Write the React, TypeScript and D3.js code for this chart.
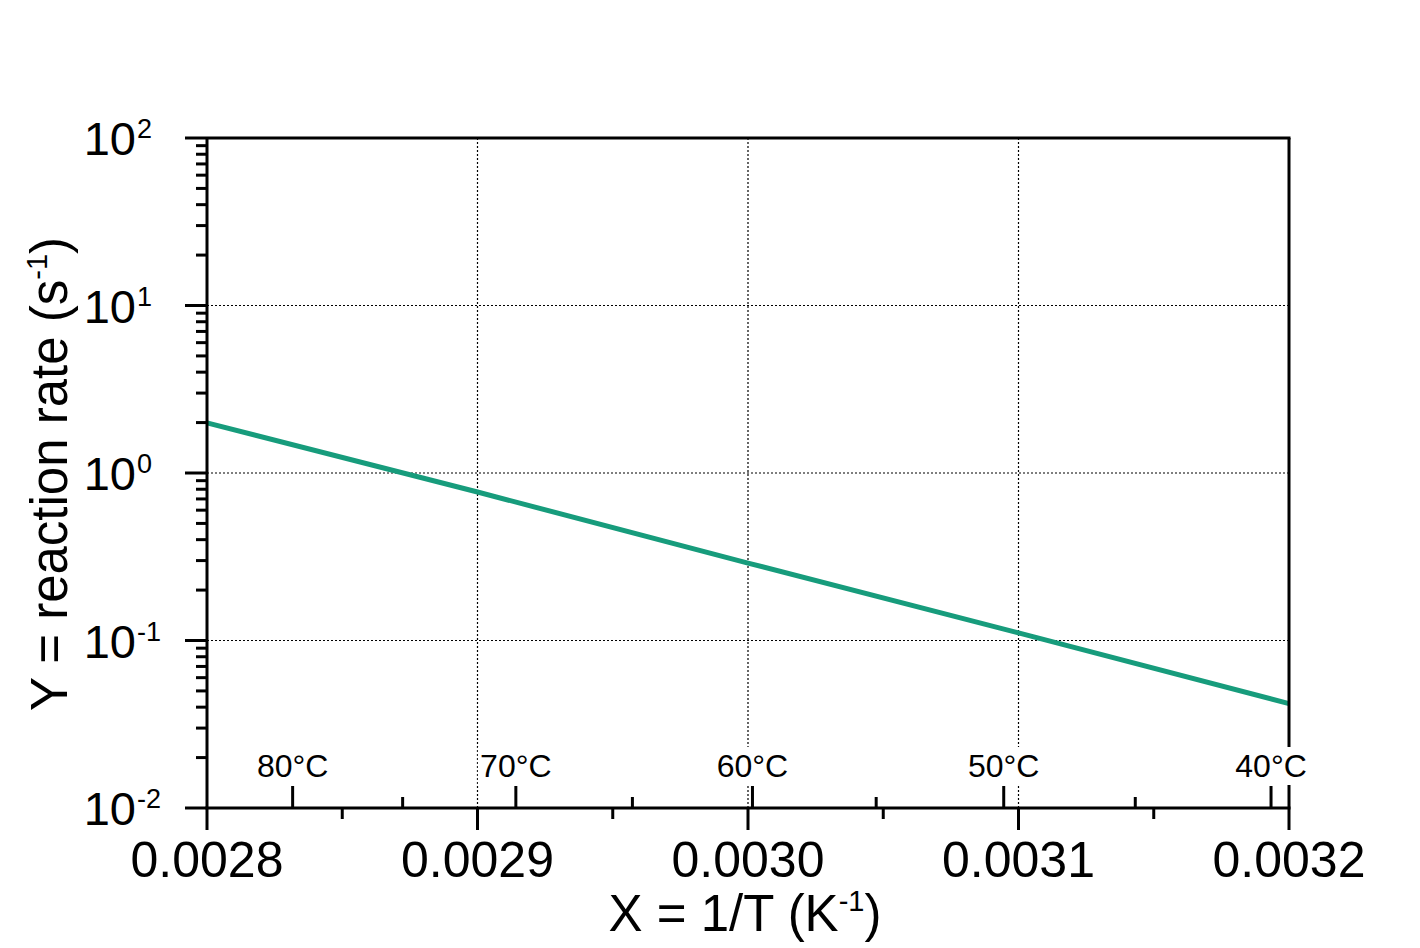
import React from 'react';
import * as d3 from 'd3';

// Arrhenius plot: reaction rate vs inverse temperature
const invT = [0.0028, 0.0029, 0.003, 0.0031, 0.0032];
const rate = [1.99, 0.77, 0.29, 0.111, 0.042];

const xTicks = [0.0028, 0.0029, 0.003, 0.0031, 0.0032];
const xMinorTicks = [0.00285, 0.00295, 0.00305, 0.00315];
const tempMajor = [80, 70, 60, 50, 40];
const tempMinor = [75, 65, 55, 45];
const yExponents = [-2, -1, 0, 1, 2];

const W = 1420;
const H = 948;
const margin = { top: 138, right: 131, bottom: 140, left: 207 };
const FONT = "'Liberation Sans', Arial, Helvetica, sans-serif";
const GREEN = '#179c7c';

export default function App() {
  const x = d3
    .scaleLinear()
    .domain([0.0028, 0.0032])
    .range([margin.left, W - margin.right]);
  const y = d3
    .scaleLog()
    .domain([0.01, 100])
    .range([H - margin.bottom, margin.top]);

  const x0 = x.range()[0];
  const x1 = x.range()[1];
  const yB = y.range()[0];
  const yT = y.range()[1];

  const line = d3
    .line<number>()
    .x((d, i) => x(invT[i]))
    .y((d) => y(d));

  // minor log ticks 2..9 in each decade
  const yMinor: number[] = [];
  yExponents.slice(0, -1).forEach((e) => {
    for (let k = 2; k <= 9; k++) yMinor.push(k * Math.pow(10, e));
  });

  const kelvin = (c: number) => 1 / (c + 273.15);

  return (
    <svg
      width={W}
      height={H}
      style={{ position: 'fixed', top: 0, left: 0, background: '#fff' }}
      fontFamily={FONT}
    >
      {/* grid */}
      <g stroke="#000" strokeWidth={1.2} strokeDasharray="2,2">
        {xTicks.slice(1, -1).map((t) => (
          <line key={'gx' + t} x1={x(t)} x2={x(t)} y1={yT} y2={yB} />
        ))}
        {yExponents.slice(1, -1).map((e) => (
          <line key={'gy' + e} x1={x0} x2={x1} y1={y(Math.pow(10, e))} y2={y(Math.pow(10, e))} />
        ))}
      </g>

      {/* data line */}
      <path d={line(rate) || ''} fill="none" stroke={GREEN} strokeWidth={5} />

      {/* frame */}
      <g stroke="#000" strokeWidth={3} fill="none">
        <line x1={x0} x2={x1 + 1.5} y1={yT} y2={yT} />
        <line x1={x1} x2={x1} y1={yT} y2={yB} />
        <line x1={x0} x2={x0} y1={yT} y2={yB} />
        <line x1={x0 - 1.5} x2={x1 + 1.5} y1={yB} y2={yB} />
      </g>

      {/* y ticks */}
      <g stroke="#000" strokeWidth={3}>
        {yExponents.map((e) => (
          <line key={'yt' + e} x1={x0 - 22} x2={x0} y1={y(Math.pow(10, e))} y2={y(Math.pow(10, e))} />
        ))}
        {yMinor.map((v) => (
          <line key={'ym' + v} x1={x0 - 11} x2={x0} y1={y(v)} y2={y(v)} />
        ))}
      </g>
      <g fontSize={47} fill="#000">
        {yExponents.map((e) => {
          const yy = y(Math.pow(10, e));
          return (
            <g key={'yl' + e}>
              <text x={136} y={yy + 17} textAnchor="end">10</text>
              <text x={137} y={yy} fontSize={27}>{String(e)}</text>
            </g>
          );
        })}
      </g>

      {/* x ticks */}
      <g stroke="#000" strokeWidth={3}>
        {xTicks.map((t) => (
          <line key={'xt' + t} x1={x(t)} x2={x(t)} y1={yB} y2={yB + 22} />
        ))}
        {xMinorTicks.map((t) => (
          <line key={'xm' + t} x1={x(t)} x2={x(t)} y1={yB} y2={yB + 11} />
        ))}
        {tempMajor.map((c) => (
          <line key={'tt' + c} x1={x(kelvin(c))} x2={x(kelvin(c))} y1={yB} y2={yB - 22} />
        ))}
        {tempMinor.map((c) => (
          <line key={'tm' + c} x1={x(kelvin(c))} x2={x(kelvin(c))} y1={yB} y2={yB - 11} />
        ))}
      </g>
      <g fontSize={50} fill="#000" textAnchor="middle">
        {xTicks.map((t) => (
          <text key={'xl' + t} x={x(t)} y={yB + 69}>
            {d3.format('.4f')(t)}
          </text>
        ))}
      </g>

      {/* temperature labels */}
      <g fontSize={32} textAnchor="middle">
        {tempMajor.map((c) => {
          const cx = x(kelvin(c));
          return (
            <g key={'tl' + c}>
              <rect x={cx - 38} y={yB - 61} width={76} height={38} fill="#fff" />
              <text x={cx} y={yB - 31} fill="#000">
                {c + '°C'}
              </text>
            </g>
          );
        })}
      </g>

      {/* axis titles */}
      <text x={745} y={931} fontSize={51} textAnchor="middle" fill="#000">
        X = 1/T (K<tspan fontSize={29} dy={-20}>-1</tspan>
        <tspan dy={20}>)</tspan>
      </text>
      <text
        transform="translate(67,474) rotate(-90)"
        fontSize={51}
        textAnchor="middle"
        fill="#000"
      >
        Y = reaction rate (s<tspan fontSize={29} dy={-20}>-1</tspan>
        <tspan dy={20}>)</tspan>
      </text>
    </svg>
  );
}
